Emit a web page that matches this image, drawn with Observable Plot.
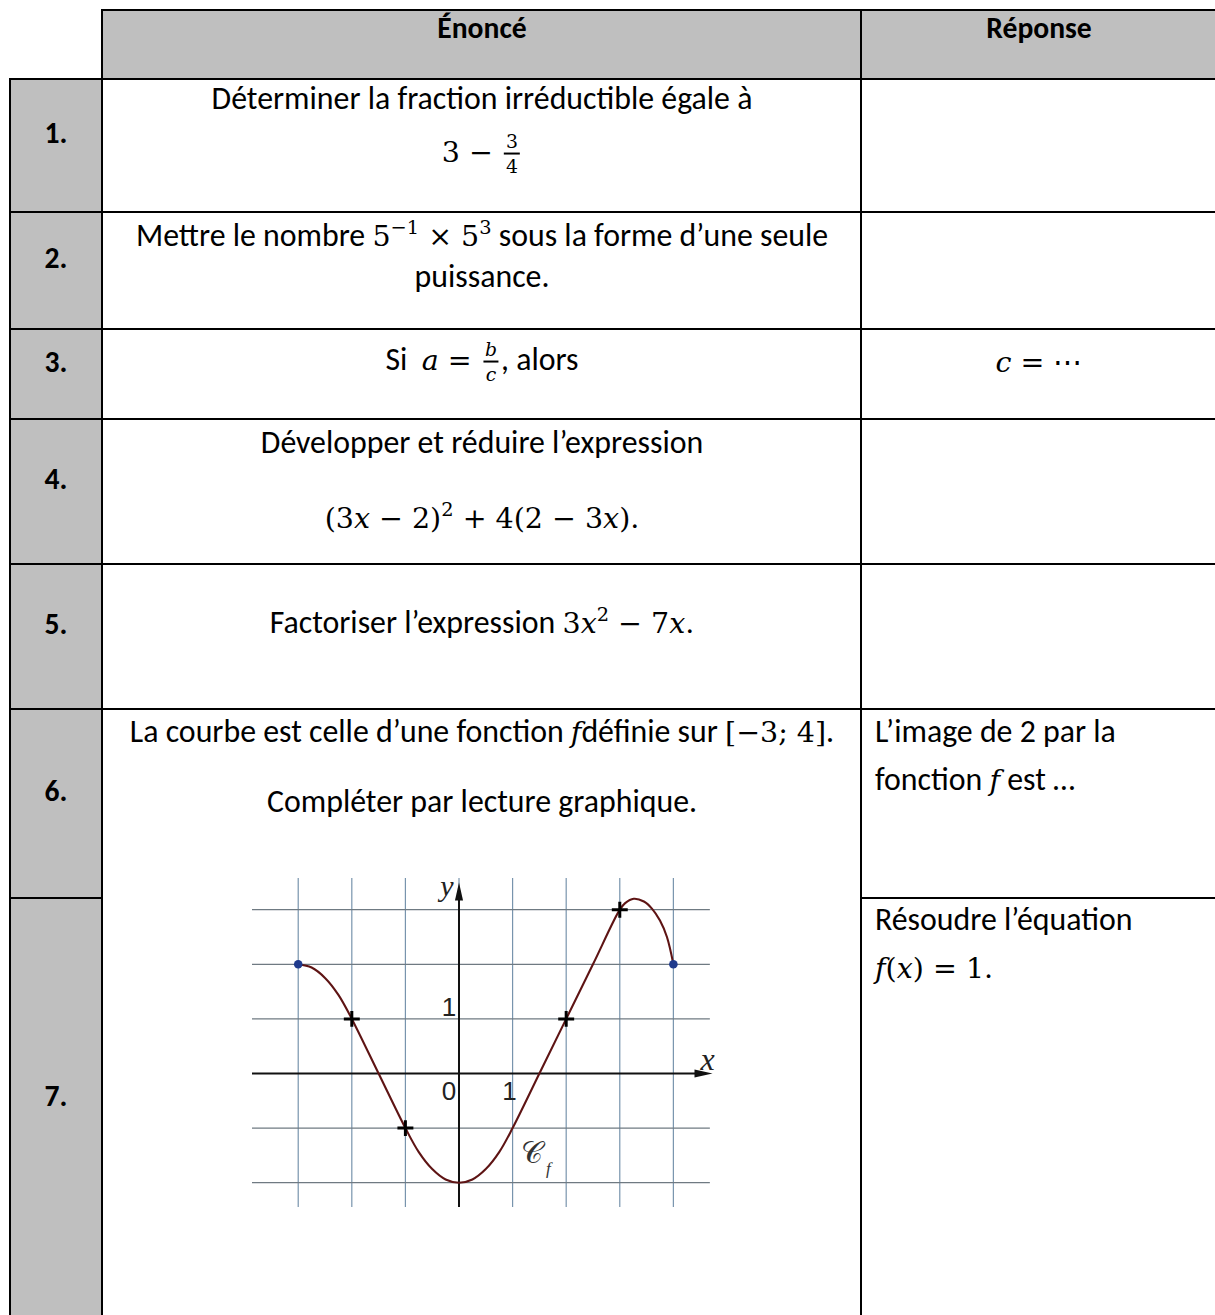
<!DOCTYPE html>
<html>
<head>
<meta charset="utf-8">
<script src="https://cdn.jsdelivr.net/npm/d3@7"></script>
<script src="https://cdn.jsdelivr.net/npm/@observablehq/plot@0.6"></script>
<style>
  html, body { margin: 0; padding: 0; background: #fff; }
  #page { position: relative; width: 1215px; height: 1315px; overflow: hidden;
          font-family: Carlito, Calibri, Lato, "Open Sans", sans-serif; font-size: 27px; color: #000; --k: 1; }
  .cell { position: absolute; box-sizing: border-box; border: 2px solid #000; background: #fff; }
  .gray { background: #bfbfbf; }
  .t { position: absolute; white-space: nowrap; line-height: 1; transform: translate(-50%, -50%); }
  .tl { position: absolute; white-space: nowrap; line-height: 1; transform: translate(0, -50%); }
  .b { font-weight: bold; font-size: 0.93em; }
  .m { font-family: "DejaVu Serif", "Liberation Serif", serif; font-size: calc(var(--k) * 1em); }
  .m i { font-style: italic; }
  .m sup { font-size: 0.68em; vertical-align: 0; position: relative; top: -0.6em; line-height: 0; }
  .frac { display: inline-block; vertical-align: middle; text-align: center; font-size: 0.66em; line-height: 1.05; margin: 0 0.12em; }
  .frac > span { display: block; padding: 0 0.1em; }
  .frac > .num { border-bottom: 2px solid #000; padding-bottom: 0.08em; }
  .frac > .den { padding-top: 0.1em; }
</style>
</head>
<body>
<div id="page"></div>
<script>
// ---------- table content ----------
const headerLabels = ["Énoncé", "Réponse"];
const rowLabels = ["1.", "2.", "3.", "4.", "5.", "6.", "7."];
const statementLines = [
  ["Déterminer la fraction irréductible égale à",
   '<span class="m">3 − <span class="frac"><span class="num">3</span><span class="den">4</span></span></span>'],
  ['Mettre le nombre <span class="m">5<sup>−1</sup> × 5<sup>3</sup></span> sous la forme d’une seule', "puissance."],
  ['Si&nbsp; <span class="m"><i>a</i> = <span class="frac"><span class="num"><i>b</i></span><span class="den"><i>c</i></span></span></span>, alors'],
  ["Développer et réduire l’expression",
   '<span class="m" id="mref">(3<i>x</i> − 2)<sup>2</sup> + 4(2 − 3<i>x</i>).</span>'],
  ['Factoriser l’expression <span class="m">3<i>x</i><sup>2</sup> − 7<i>x</i>.</span>'],
  ['La courbe est celle d’une fonction <span class="m"><i>f</i></span>définie sur <span class="m">[−3; 4]</span>.',
   '<span id="ref">Compléter par lecture graphique.</span>']
];
const answerLines = [
  [], [], ['<span class="m"><i>c</i> = ⋯</span>'], [], [],
  ["L’image de 2 par la", 'fonction <span class="m"><i>f</i></span> est …'],
  ["Résoudre l’équation", '<span class="m"><i>f</i>(<i>x</i>) = 1.</span>']
];

// ---------- graph data ----------
const gridX = [-3, -2, -1, 0, 1, 2, 3, 4];
const gridY = [-2, -1, 0, 1, 2, 3];
const curveX = [-3, -2.75, -2.5, -2.25, -2, -1.5, -1, -0.75, -0.5, -0.25, 0, 0.25, 0.5, 0.75, 1, 1.5, 2, 2.5, 3, 3.1, 3.26, 3.45, 3.6, 3.75, 3.88, 4];
const curveY = [2, 1.94, 1.75, 1.44, 1, 0, -1, -1.44, -1.75, -1.94, -2, -1.94, -1.75, -1.44, -1, 0, 1, 2, 3, 3.12, 3.2, 3.15, 3.02, 2.8, 2.5, 2];
const markedX = [-2, -1, 2, 3];
const markedY = [1, -1, 1, 3];
const endX = [-3, 4];
const endY = [2, 2];
const tickText = ["0", "1", "1"];
const tickX = [0, 1, 0];
const tickY = [0, 0, 1];
const axisNames = ["x", "y"];
const curveName = ["𝒞", "f"];
const curveNameX = [1.37];
const curveNameY = [-1.47];

// ---------- layout (pixels) ----------
const colLines = [10, 102, 861, 1217];
const headerTop = 10;
const rowLines = [79, 212, 329, 419, 564, 709, 898, 1330];
const labelY = [134, 259, 363, 480, 625, 792, 1097];
const statementY = [[99, 154], [236, 277], [362], [443, 518], [623], [732, 802]];
const answerY = [[], [], [362], [], [], [732, 780], [920, 968]];
const stmtCenterX = 482, ansCenterX = 1039, ansLeftX = 875, headerY = 29;

const page = document.getElementById("page");
function box(x0, y0, x1, y1, cls) {
  const d = document.createElement("div");
  d.className = "cell " + (cls || "");
  Object.assign(d.style, { left: (x0 - 1) + "px", top: (y0 - 1) + "px", width: (x1 - x0 + 2) + "px", height: (y1 - y0 + 2) + "px" });
  page.appendChild(d);
}
function txt(html, x, y, cls) {
  const d = document.createElement("div");
  d.className = cls;
  d.innerHTML = html;
  d.style.left = x + "px"; d.style.top = y + "px";
  page.appendChild(d);
  return d;
}
// header
box(colLines[1], headerTop, colLines[2], rowLines[0], "gray");
box(colLines[2], headerTop, colLines[3], rowLines[0], "gray");
// col 1 and col 3 cells
for (let i = 0; i < 7; i++) {
  box(colLines[0], rowLines[i], colLines[1], rowLines[i + 1], "gray");
  box(colLines[2], rowLines[i], colLines[3], rowLines[i + 1]);
}
// col 2 cells (rows 6 and 7 merged)
for (let i = 0; i < 5; i++) box(colLines[1], rowLines[i], colLines[2], rowLines[i + 1]);
box(colLines[1], rowLines[5], colLines[2], rowLines[7]);

txt(headerLabels[0], stmtCenterX, headerY, "t b");
txt(headerLabels[1], ansCenterX, headerY, "t b");
rowLabels.forEach((l, i) => txt(l, (colLines[0] + colLines[1]) / 2, labelY[i], "t b"));
statementLines.forEach((lines, i) => lines.forEach((h, j) => txt(h, stmtCenterX, statementY[i][j], "t")));
answerLines.forEach((lines, i) => lines.forEach((h, j) => {
  if (i === 2) txt(h, ansCenterX, answerY[i][j], "t");
  else txt(h, ansLeftX, answerY[i][j], "tl");
}));

// fit fonts to the reference widths
const ref = document.getElementById("ref");
const w0 = ref.getBoundingClientRect().width;
page.style.fontSize = (27 * 430 / w0).toFixed(2) + "px";
const mref = document.getElementById("mref");
const mw = mref.getBoundingClientRect().width;
page.style.setProperty("--k", (315 / mw).toFixed(3));

// ---------- graph with Plot ----------
const xDomain = [-3.853, 4.73];
const yDomain = [-2.454, 3.571];
const arrowHead = {
  draw(ctx, size) {
    const r = Math.sqrt(size / Math.PI);
    ctx.moveTo(r, 0); ctx.lineTo(-r, -r * 0.45); ctx.lineTo(-r, r * 0.45); ctx.closePath();
  }
};
const curve = curveX.map((x, i) => ({ x, y: curveY[i] }));
const marked = markedX.map((x, i) => ({ x, y: markedY[i] }));
const ends = endX.map((x, i) => ({ x, y: endY[i] }));
const ticks = tickText.map((t, i) => ({ t, x: tickX[i], y: tickY[i] }));
const numFont = "Liberation Sans, DejaVu Sans, sans-serif";

const chart = Plot.plot({
  width: 500, height: 370,
  marginLeft: 20, marginRight: 20, marginTop: 18, marginBottom: 23,
  x: { domain: xDomain, axis: null },
  y: { domain: yDomain, axis: null },
  style: { background: "transparent", overflow: "visible" },
  marks: [
    Plot.ruleX(gridX, { y1: yDomain[0], y2: yDomain[1], stroke: "#7894ad", strokeWidth: 1.2 }),
    Plot.ruleY(gridY.filter(d => d !== 0), { x1: xDomain[0], x2: 4.69, stroke: "#6f7a82", strokeWidth: 1.2 }),
    Plot.ruleY([0], { x1: xDomain[0], x2: 4.5, stroke: "#111", strokeWidth: 2 }),
    Plot.ruleX([0], { y1: yDomain[0], y2: 3.35, stroke: "#111", strokeWidth: 2 }),
    Plot.dot([0], { x: () => xDomain[1], y: () => 0, symbol: arrowHead, r: 9, fill: "#111", stroke: "none", dx: -9 }),
    Plot.dot([0], { x: () => 0, y: () => yDomain[1], symbol: arrowHead, r: 9, rotate: -90, fill: "#111", stroke: "none", dy: 13 }),
    Plot.line(curve, { x: "x", y: "y", curve: "catmull-rom", stroke: "#5e1414", strokeWidth: 2.1 }),
    Plot.dot(marked, { x: "x", y: "y", symbol: "plus", r: 5.2, stroke: "#000", strokeWidth: 3 }),
    Plot.dot(ends, { x: "x", y: "y", r: 4.3, fill: "#1f3a8c", stroke: "none" }),
    Plot.text(ticks.filter(d => d.y === 0 && d.x === 0), { x: "x", y: "y", text: "t", dx: -10, dy: 18, fontSize: 26, fontFamily: numFont, fill: "#222" }),
    Plot.text(ticks.filter(d => d.y === 0 && d.x !== 0), { x: "x", y: "y", text: "t", dx: -3, dy: 18, fontSize: 26, fontFamily: numFont, fill: "#222" }),
    Plot.text(ticks.filter(d => d.y !== 0), { x: "x", y: "y", text: "t", dx: -10, dy: -11, fontSize: 26, fontFamily: numFont, fill: "#222" }),
    Plot.text([axisNames[0]], { x: () => xDomain[1], y: () => 0, text: d => d, dx: -5, dy: -14, fontSize: 32, fontStyle: "italic", fontFamily: "Liberation Serif, serif", fill: "#222" }),
    Plot.text([axisNames[1]], { x: () => 0, y: () => yDomain[1], text: d => d, dx: -12, dy: 8, fontSize: 30, fontStyle: "italic", fontFamily: "Liberation Serif, serif", fill: "#222" }),
    Plot.text([curveName[0]], { x: () => curveNameX[0], y: () => curveNameY[0], text: d => d, fontSize: 30, fontFamily: "DejaVu Serif, DejaVu Sans, serif", fill: "#333" }),
    Plot.text([curveName[1]], { x: () => curveNameX[0], y: () => curveNameY[0], text: d => d, dx: 16, dy: 15, fontSize: 17, fontStyle: "italic", fontFamily: "Liberation Serif, serif", fill: "#333" })
  ]
});
chart.style.position = "absolute";
chart.style.left = "232px";
chart.style.top = "860px";
chart.style.maxWidth = "none";
chart.style.overflow = "visible";
page.appendChild(chart);
</script>
</body>
</html>
